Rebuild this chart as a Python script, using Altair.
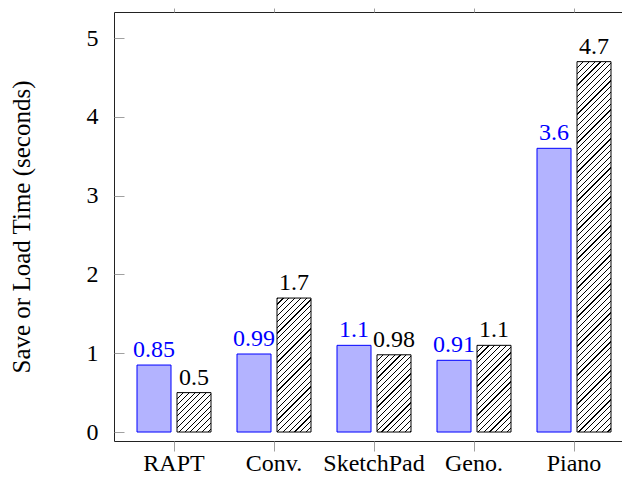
import altair as alt
import pandas as pd

# ---------------- data ----------------
categories = ["RAPT", "Conv.", "SketchPad", "Geno.", "Piano"]
save_times = [0.85, 0.99, 1.1, 0.91, 3.6]      # blue bars
load_times = [0.5, 1.7, 0.98, 1.1, 4.7]        # hatched bars
save_labels = ["0.85", "0.99", "1.1", "0.91", "3.6"]
load_labels = ["0.5", "1.7", "0.98", "1.1", "4.7"]
series_names = ["save", "load"]
y_ticks = [0, 1, 2, 3, 4, 5]
y_domain = [-0.114, 5.33]

rows = []
for c, v, l in zip(categories, save_times, save_labels):
    rows.append({"cat": c, "series": "save", "value": v, "label": l})
for c, v, l in zip(categories, load_times, load_labels):
    rows.append({"cat": c, "series": "load", "value": v, "label": l})
df = pd.DataFrame(rows)

# ---------------- style ----------------
W, H = 520, 429
FONT = "'Liberation Serif', 'Times New Roman', serif"
FS = 24
BLUE = "#0000ff"
BLUE_FILL = "#b3b3ff"
TICK = "#a0a0a0"

x_scale = alt.Scale(domain=categories, paddingInner=0.26, paddingOuter=0.23)
xo_scale = alt.Scale(domain=series_names, paddingInner=0.15, paddingOuter=0)
y_scale = alt.Scale(domain=y_domain, nice=False, zero=False)

px_per_unit = H / (y_domain[1] - y_domain[0])
bar_w = (W / 5.2) * 0.74 / 1.85 * 0.85  # bar width in px


def hatch_gradient(w, h, period=5.8, frac=0.2):
    n = (w + h) / period
    stops = []
    k = 0
    while k < n:
        a = k / n
        b = min((k + frac) / n, 1.0)
        c = min((k + 1) / n, 1.0)
        stops += [
            {"offset": a, "color": "black"},
            {"offset": b, "color": "black"},
            {"offset": b, "color": "white"},
            {"offset": c, "color": "white"},
        ]
        k += 1
    s = (w + h) / (w * w + h * h)
    return {"gradient": "linear", "x1": 0, "y1": 0,
            "x2": w * s, "y2": h * s, "stops": stops}


base = alt.Chart(df)

x_enc_none = alt.X("cat:N", scale=x_scale, sort=categories, axis=None)
xo_enc = alt.XOffset("series:N", scale=xo_scale, sort=series_names)
y_enc_none = alt.Y("value:Q", scale=y_scale, stack=None, axis=None)

save_bars = base.transform_filter(alt.datum.series == "save").mark_bar(
    fill=BLUE_FILL, stroke=BLUE, strokeWidth=1
).encode(
    x=alt.X("cat:N", scale=x_scale, sort=categories,
            axis=alt.Axis(orient="bottom", title=None, labelAngle=0, domain=False,
                          tickSize=10, tickColor=TICK, tickWidth=1,
                          labelFont=FONT, labelFontSize=FS, labelColor="black",
                          labelBaseline="alphabetic", labelPadding=19)),
    xOffset=xo_enc,
    y=alt.Y("value:Q", scale=y_scale, stack=None,
            axis=alt.Axis(orient="left", values=y_ticks, ticks=False, tickSize=0,
                          domain=False, grid=False, labelPadding=16,
                          labelFont=FONT, labelFontSize=FS, labelColor="black",
                          title="Save or Load Time (seconds)", titleFont=FONT,
                          titleFontSize=25, titleFontWeight="normal",
                          titleColor="black", titlePadding=52)),
    y2=alt.datum(0),
)

layers = [save_bars]

for c, v in zip(categories, load_times):
    grad = hatch_gradient(bar_w, v * px_per_unit)
    layers.append(
        base.transform_filter((alt.datum.series == "load") & (alt.datum.cat == c))
        .mark_bar(fill=grad, stroke="black", strokeWidth=1)
        .encode(x=x_enc_none, xOffset=xo_enc, y=y_enc_none, y2=alt.datum(0))
    )

save_text = base.transform_filter(alt.datum.series == "save").mark_text(
    font=FONT, fontSize=FS, color=BLUE, baseline="alphabetic", dy=-8
).encode(x=x_enc_none, xOffset=xo_enc, y=y_enc_none, text="label:N")

load_text = base.transform_filter(alt.datum.series == "load").mark_text(
    font=FONT, fontSize=FS, color="black", baseline="alphabetic", dy=-8
).encode(x=x_enc_none, xOffset=xo_enc, y=y_enc_none, text="label:N")

layers += [save_text, load_text]

# inward ticks on left + outward ticks on top
tick_left_top = base.mark_point(opacity=0).encode(
    x=alt.X("cat:N", scale=x_scale, sort=categories,
            axis=alt.Axis(orient="top", title=None, labels=False, domain=False,
                          tickSize=4, tickColor=TICK, tickWidth=1)),
    y=alt.Y("value:Q", scale=y_scale, stack=None,
            axis=alt.Axis(orient="left", values=y_ticks, offset=-10, tickSize=10,
                          tickColor=TICK, tickWidth=1, labels=False, domain=False,
                          grid=False, title=None)),
)

tick_right = base.mark_point(opacity=0).encode(
    x=x_enc_none,
    y=alt.Y("value:Q", scale=y_scale, stack=None,
            axis=alt.Axis(orient="right", values=y_ticks, offset=-10, tickSize=10,
                          tickColor=TICK, tickWidth=1, labels=False, domain=False,
                          grid=False, title=None)),
)

layers += [tick_left_top, tick_right]

# svg is 106 + 520 - 12 = 614 wide and 4 + 429 + 34 = 467 tall, so the page
# (with its 8px margins) fits the 630x483 window; the right frame edge is cut
chart = alt.layer(*layers).resolve_axis(
    x="independent", y="independent"
).properties(
    width=W, height=H,
    autosize=alt.AutoSizeParams(type="none"),
    padding={"left": 106, "top": 4, "right": -12, "bottom": 34},
    background="white",
).configure_view(
    stroke="#222222", strokeWidth=1
)

chart.save("out.html", embed_options={"renderer": "svg", "actions": False})
